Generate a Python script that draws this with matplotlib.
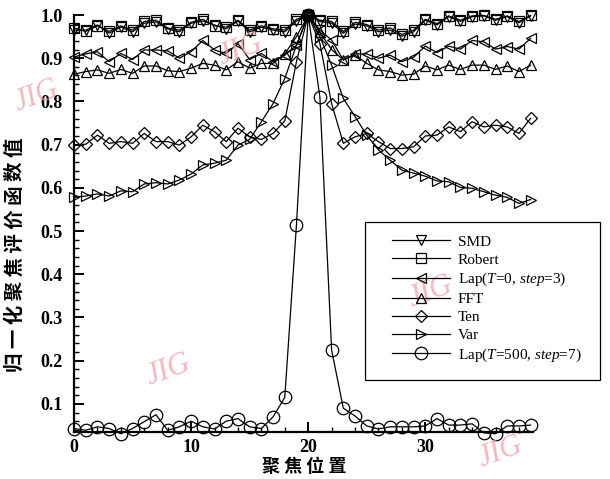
import matplotlib
matplotlib.use("Agg")
import matplotlib.pyplot as plt
from matplotlib.patches import Rectangle
from matplotlib.ticker import MultipleLocator
import numpy as np

plt.rcParams['font.family'] = ['Liberation Serif', 'DejaVu Serif']
plt.rcParams['mathtext.fontset'] = 'custom'
plt.rcParams['mathtext.rm'] = 'Liberation Serif'
plt.rcParams['mathtext.it'] = 'Liberation Serif:italic'

positions = list(range(40))

smd = [0.965, 0.965, 0.977, 0.958, 0.972, 0.961, 0.981, 0.984, 0.968, 0.961,
       0.981, 0.986, 0.977, 0.968, 0.986, 0.961, 0.972, 0.965, 0.961, 0.986,
       1.0,
       0.985, 0.981, 0.958, 0.979, 0.975, 0.961, 0.965, 0.951, 0.961, 0.988,
       0.977, 0.996, 0.985, 0.996, 0.998, 0.988, 0.996, 0.982, 0.998]
robert = [0.970, 0.962, 0.975, 0.962, 0.975, 0.965, 0.985, 0.988, 0.970, 0.965,
          0.983, 0.990, 0.975, 0.972, 0.988, 0.965, 0.975, 0.968, 0.965, 0.990,
          1.0,
          0.988, 0.985, 0.962, 0.983, 0.978, 0.965, 0.970, 0.955, 0.965, 0.990,
          0.980, 0.998, 0.988, 0.998, 0.999, 0.990, 0.998, 0.985, 0.999]
lap3 = [0.903, 0.910, 0.915, 0.892, 0.911, 0.897, 0.919, 0.919, 0.917, 0.900,
        0.915, 0.941, 0.919, 0.911, 0.934, 0.897, 0.911, 0.892, 0.907, 0.930,
        1.0,
        0.965, 0.942, 0.896, 0.910, 0.910, 0.900, 0.907, 0.892, 0.902, 0.928,
        0.913, 0.928, 0.921, 0.941, 0.938, 0.921, 0.927, 0.921, 0.946]
fft = [0.863, 0.869, 0.873, 0.865, 0.874, 0.865, 0.882, 0.882, 0.871, 0.869,
       0.877, 0.888, 0.884, 0.873, 0.892, 0.877, 0.888, 0.888, 0.910, 0.950,
       1.0,
       0.960, 0.920, 0.896, 0.907, 0.888, 0.873, 0.869, 0.861, 0.863, 0.882,
       0.873, 0.884, 0.874, 0.884, 0.884, 0.874, 0.882, 0.869, 0.884]
ten = [0.699, 0.701, 0.722, 0.703, 0.707, 0.703, 0.726, 0.707, 0.707, 0.699,
       0.718, 0.745, 0.730, 0.707, 0.738, 0.718, 0.712, 0.726, 0.755, 0.892,
       1.0,
       0.934, 0.795, 0.703, 0.718, 0.726, 0.707, 0.691, 0.691, 0.695, 0.720,
       0.722, 0.741, 0.730, 0.753, 0.741, 0.745, 0.741, 0.726, 0.761]
var = [0.578, 0.581, 0.586, 0.581, 0.593, 0.591, 0.609, 0.612, 0.609, 0.618,
       0.632, 0.653, 0.657, 0.664, 0.699, 0.712, 0.753, 0.795, 0.853, 0.930,
       1.0,
       0.950, 0.884, 0.807, 0.765, 0.722, 0.688, 0.664, 0.641, 0.634, 0.627,
       0.616, 0.614, 0.601, 0.599, 0.591, 0.583, 0.578, 0.564, 0.573]
lap500 = [0.043, 0.039, 0.047, 0.043, 0.031, 0.043, 0.059, 0.075, 0.039, 0.047,
          0.060, 0.047, 0.042, 0.060, 0.066, 0.047, 0.043, 0.070, 0.115, 0.515,
          1.0,
          0.810, 0.225, 0.090, 0.072, 0.049, 0.042, 0.047, 0.047, 0.047, 0.049,
          0.066, 0.051, 0.051, 0.054, 0.033, 0.031, 0.049, 0.049, 0.051]

labels = ['SMD', 'Robert', r'Lap($\it{T}$=0, $\it{step}$=3)', 'FFT', 'Ten', 'Var',
          r'Lap($\it{T}$=500, $\it{step}$=7)']
series = [smd, robert, lap3, fft, ten, var, lap500]
markers = ['v', 's', '<', '^', 'D', '>', 'o']
msizes = [7, 6.5, 7.5, 7.5, 6.3, 7.5, 9]

xticks = [0, 10, 20, 30]
yticks = [0.1, 0.2, 0.3, 0.4, 0.5, 0.6, 0.7, 0.8, 0.9, 1.0]

W, H = 610, 479
fig = plt.figure(figsize=(W / 100, H / 100), dpi=100)
L, R, T, B = 74, 533, 15, 432
ax = fig.add_axes([L / W, 1 - B / H, (R - L) / W, (B - T) / H])

handles = []
for ys, m, ms, lab in zip(series, markers, msizes, labels):
    h, = ax.plot(positions, ys, color='black', lw=0.9, marker=m, ms=ms,
                 mfc='none', mec='black', mew=0.9, clip_on=False, label=lab)
    handles.append(h)

ax.set_xlim(0, 39.2)
ax.set_ylim(0.035, 1.0)
ax.spines['top'].set_visible(False)
ax.spines['right'].set_visible(False)
ax.spines['left'].set_linewidth(1.6)
ax.spines['bottom'].set_linewidth(1.6)

ax.set_xticks(xticks)
ax.set_xticklabels([str(v) for v in xticks])
ax.xaxis.set_minor_locator(MultipleLocator(2))
ax.set_yticks(yticks)
ax.set_yticklabels(['%.1f' % v for v in yticks])
ax.yaxis.set_minor_locator(MultipleLocator(0.02))
ax.tick_params(which='major', direction='in', length=7, width=1.4,
               labelsize=13)
ax.tick_params(axis='y', which='major', pad=8)
ax.tick_params(axis='x', which='major', pad=5)
ax.tick_params(which='minor', direction='in', length=3.5, width=1.0)
for t in ax.get_xticklabels() + ax.get_yticklabels():
    t.set_fontweight('bold')

cjk = ['Noto Sans CJK SC', 'DejaVu Sans']
fig.text(15 / W, 1 - 255 / H, '归 一 化 聚 焦 评 价 函 数 值', rotation=90,
         ha='center', va='center', fontsize=14, fontweight='bold', family=cjk)
fig.text(304 / W, 1 - 466 / H, '聚 焦 位 置', ha='center', va='center',
         fontsize=13, fontweight='bold', family=cjk)

# legend
fig.patches.append(Rectangle((365 / W, 1 - 380 / H), 235 / W, 158 / H,
                             transform=fig.transFigure, fill=False,
                             edgecolor='black', lw=0.9))
leg = fig.legend(handles=handles, loc='upper left',
                 bbox_to_anchor=(392 / W, 1 - 235 / H), frameon=False,
                 fontsize=11, handlelength=3.8, handletextpad=0.5,
                 labelspacing=0.28, borderpad=0, borderaxespad=0, numpoints=1)

# watermarks
wm = dict(color='#f2a0a8', fontsize=22, family='Liberation Serif',
          style='italic', alpha=0.75, ha='center', va='center', zorder=0)
fig.text(36 / W, 1 - 96 / H, 'JIG', rotation=20, **wm)
fig.text(240 / W, 1 - 50 / H, 'JIG', rotation=20, **wm)
fig.text(168 / W, 1 - 370 / H, 'JIG', rotation=20, **wm)
fig.text(430 / W, 1 - 292 / H, 'JIG', rotation=20, **wm)
fig.text(500 / W, 1 - 452 / H, 'JIG', rotation=20, **wm)

fig.savefig('out.png', dpi=100)
